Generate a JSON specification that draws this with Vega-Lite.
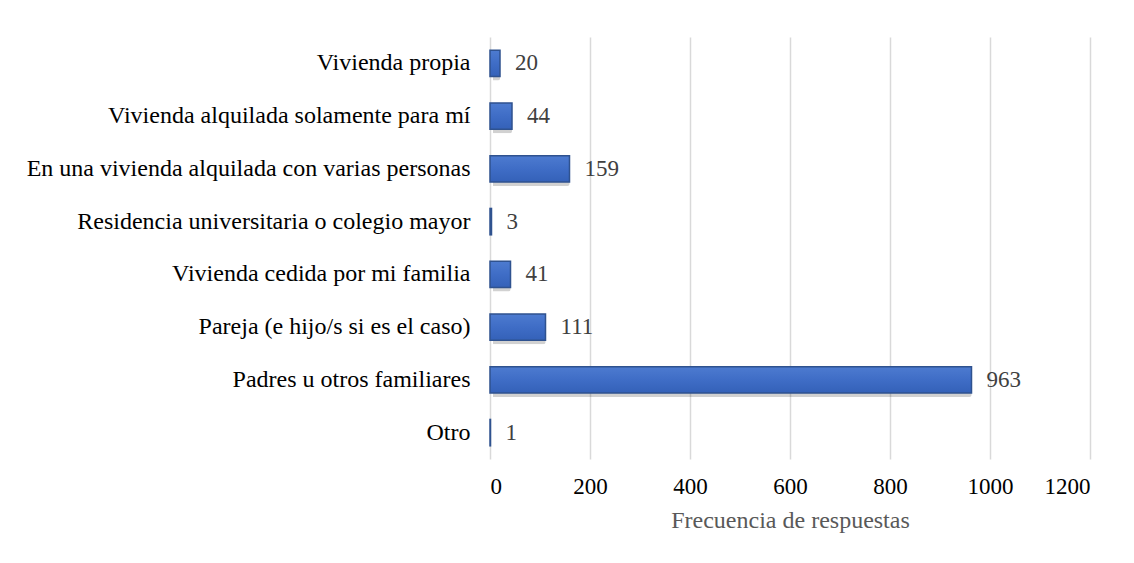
{
  "$schema": "https://vega.github.io/schema/vega-lite/v6.json",
  "width": 600,
  "height": 422,
  "autosize": {"type": "none"},
  "padding": {"left": 490, "top": 37, "right": 44, "bottom": 104},
  "background": "white",
  "data": {"values": [
    {"categoria": "Vivienda propia", "frecuencia": 20},
    {"categoria": "Vivienda alquilada solamente para mí", "frecuencia": 44},
    {"categoria": "En una vivienda alquilada con varias personas", "frecuencia": 159},
    {"categoria": "Residencia universitaria o colegio mayor", "frecuencia": 3},
    {"categoria": "Vivienda cedida por mi familia", "frecuencia": 41},
    {"categoria": "Pareja (e hijo/s si es el caso)", "frecuencia": 111},
    {"categoria": "Padres u otros familiares", "frecuencia": 963},
    {"categoria": "Otro", "frecuencia": 1}
  ]},
  "encoding": {
    "y": {
      "field": "categoria", "type": "nominal", "sort": null,
      "scale": {"paddingInner": 0.5, "paddingOuter": 0.25},
      "axis": {"title": null, "domain": false, "ticks": false, "labelPadding": 20,
               "labelFont": "Liberation Serif", "labelFontSize": 24, "labelColor": "#000000", "labelLimit": 500}
    },
    "x": {
      "field": "frecuencia", "type": "quantitative",
      "scale": {"domain": [0, 1200], "nice": false},
      "axis": {"values": [0, 200, 400, 600, 800, 1000, 1200], "format": "d", "domain": false, "ticks": false,
               "grid": true, "gridColor": "#d9d9d9", "gridWidth": 1.5,
               "labelFont": "Liberation Serif", "labelFontSize": 23, "labelColor": "#000000", "labelPadding": 16,
               "title": "Frecuencia de respuestas", "titleFont": "Liberation Serif", "titleFontSize": 24,
               "titleFontWeight": "normal", "titleColor": "#595959", "titlePadding": 10}
    }
  },
  "layer": [
    {"mark": {"type": "bar", "color": "#000000", "opacity": 0.18, "xOffset": 3, "yOffset": 4, "cornerRadius": 2}},
    {"mark": {"type": "bar", "stroke": "#2f528f", "strokeWidth": 1.5,
              "color": {"gradient": "linear", "x1": 0, "y1": 0, "x2": 0, "y2": 1,
                        "stops": [{"offset": 0, "color": "#4d7bd0"}, {"offset": 0.5, "color": "#3f6dc6"}, {"offset": 1, "color": "#3461b8"}]}}},
    {"mark": {"type": "text", "align": "left", "baseline": "middle", "dx": 15,
              "font": "Liberation Serif", "fontSize": 23, "color": "#404040"},
     "encoding": {"text": {"field": "frecuencia", "type": "quantitative"}}}
  ],
  "config": {"view": {"stroke": null}}
}
